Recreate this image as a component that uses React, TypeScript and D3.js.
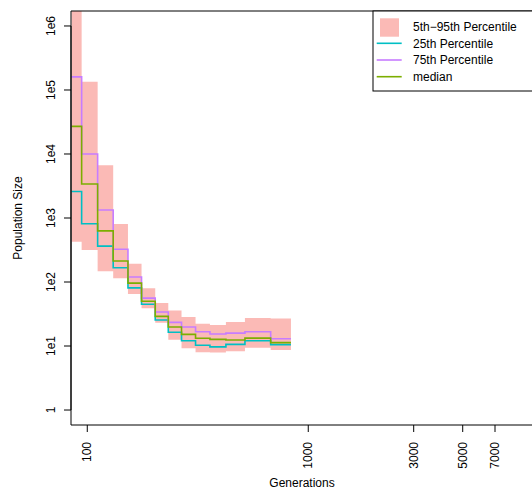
import * as d3 from "d3";

// generation breakpoints of the step function (bin edges)
const breaks = [85, 94.3, 111.4, 131, 152.8, 176, 203, 232.6, 267, 309, 359, 424, 517, 676, 835];
// percentiles per bin
const p5 = [426, 316, 147, 114, 65, 39, 23, 12.5, 9.2, 8.0, 7.9, 8.3, 9.4, 8.7];
const p25 = [2600, 815, 364, 167, 81, 45, 25.5, 16.4, 12.1, 10.3, 9.7, 10.6, 12.1, 10.5];
const median = [27000, 3400, 630, 213, 96, 50, 29, 19.8, 15.2, 13.2, 12.7, 12.4, 13.3, 11.3];
const p75 = [160000, 10000, 1330, 325, 120, 56, 34, 23.4, 19.8, 16.7, 15.4, 15.9, 16.7, 13.0];
const p95 = [3e7, 135000, 6700, 806, 193, 80, 47, 36, 28.4, 22.3, 21.3, 23.7, 27.4, 26.8];

const xTicks = [100, 1000, 3000, 5000, 7000];
const yTicks = [1, 10, 100, 1e3, 1e4, 1e5, 1e6];
const yTickLabels = ["1", "1e1", "1e2", "1e3", "1e4", "1e5", "1e6"];

const legendItems = ["5th\u221295th Percentile", "25th Percentile", "75th Percentile", "median"];

const width = 532;
const height = 489;
const left = 71;
const right = 533;
const top = 11;
const bottom = 425;
const font = "'Liberation Sans', Arial, Helvetica, sans-serif";

const colors = {
  band: "#F8766D",
  p25: "#00BFC4",
  p75: "#C77CFF",
  median: "#7CAE00",
};

const x = d3.scaleLog().domain([84.4, 10400]).range([left, right]);
const y = d3.scaleLog().domain([10 ** -0.234, 10 ** 6.234]).range([bottom, top]);

type Pt = { g: number; v: number };
const toPts = (vals: number[]): Pt[] =>
  breaks.map((g, i) => ({ g, v: vals[Math.min(i, vals.length - 1)] }));

const stepLine = d3
  .line<Pt>()
  .x((d) => x(d.g))
  .y((d) => y(d.v))
  .curve(d3.curveStepAfter);

const bandPts = breaks.map((g, i) => ({
  g,
  lo: p5[Math.min(i, p5.length - 1)],
  hi: p95[Math.min(i, p95.length - 1)],
}));
const bandArea = d3
  .area<{ g: number; lo: number; hi: number }>()
  .x((d) => x(d.g))
  .y0((d) => y(d.lo))
  .y1((d) => y(d.hi))
  .curve(d3.curveStepAfter);

const series = [
  { vals: p25, color: colors.p25 },
  { vals: p75, color: colors.p75 },
  { vals: median, color: colors.median },
];

export default function App() {
  return (
    <svg
      width={width}
      height={height}
      style={{ position: "absolute", left: 0, top: 0, background: "#fff" }}
      fontFamily={font}
    >
      <defs>
        <clipPath id="plot">
          <rect x={left} y={top} width={right - left} height={bottom - top} />
        </clipPath>
      </defs>

      <g clipPath="url(#plot)">
        <path d={bandArea(bandPts) ?? ""} fill={colors.band} fillOpacity={0.5} />
        {series.map((s, i) => (
          <path
            key={i}
            d={stepLine(toPts(s.vals)) ?? ""}
            fill="none"
            stroke={s.color}
            strokeWidth={1.6}
          />
        ))}
      </g>

      {/* box */}
      <line x1={left} x2={width + 5} y1={top} y2={top} stroke="#000" />
      <line x1={left} x2={width + 5} y1={bottom} y2={bottom} stroke="#000" />
      <line x1={left} x2={left} y1={top} y2={bottom} stroke="#000" />

      {/* x axis */}
      {xTicks.map((t) => (
        <g key={t} transform={`translate(${x(t)},0)`}>
          <line y1={bottom} y2={bottom + 7} stroke="#000" />
          <text
            transform={`translate(4,${bottom + 17}) rotate(-90)`}
            textAnchor="end"
            fontSize={12}
          >
            {t}
          </text>
        </g>
      ))}
      <text x={(left + right) / 2} y={487} textAnchor="middle" fontSize={12}>
        Generations
      </text>

      {/* y axis */}
      <line x1={left} x2={left} y1={y(1)} y2={y(1e6)} stroke="#000" />
      {yTicks.map((t, i) => (
        <g key={t} transform={`translate(0,${y(t)})`}>
          <line x1={left - 7} x2={left} stroke="#000" />
          <text
            transform={`translate(55,0) rotate(-90)`}
            textAnchor="middle"
            fontSize={12}
          >
            {yTickLabels[i]}
          </text>
        </g>
      ))}
      <text
        transform={`translate(22,${(top + bottom) / 2}) rotate(-90)`}
        textAnchor="middle"
        fontSize={12}
      >
        Population Size
      </text>

      {/* legend */}
      <g>
        <rect x={373} y={top} width={200} height={80} fill="#fff" stroke="#000" />
        <rect x={380} y={18.3} width={19} height={18.4} fill={colors.band} fillOpacity={0.5} />
        {[colors.p25, colors.p75, colors.median].map((c, i) => (
          <line
            key={c}
            x1={376.7}
            x2={401.7}
            y1={43.3 + i * 16.7}
            y2={43.3 + i * 16.7}
            stroke={c}
            strokeWidth={1.6}
          />
        ))}
        {legendItems.map((label, i) => (
          <text key={label} x={413} y={26.7 + i * 16.7} dy="0.35em" fontSize={12}>
            {label}
          </text>
        ))}
      </g>
    </svg>
  );
}
